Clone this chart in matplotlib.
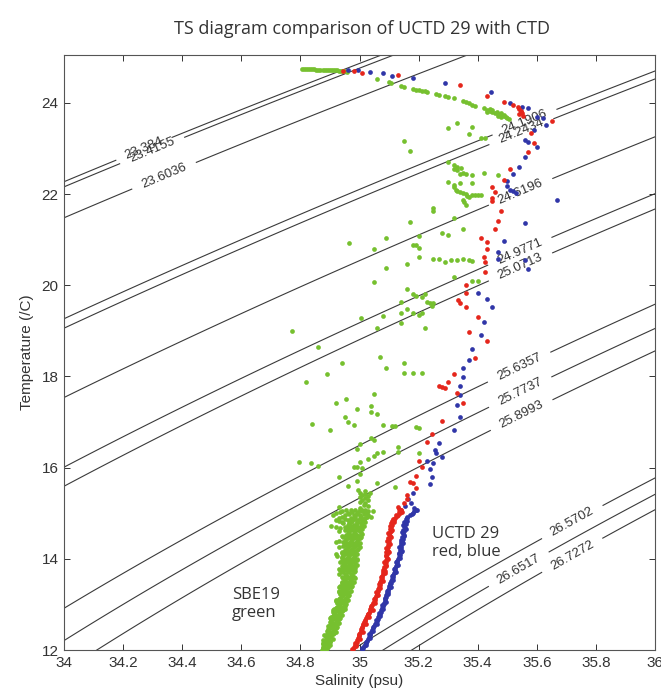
import numpy as np
import matplotlib
matplotlib.use("Agg")
import matplotlib.pyplot as plt

# ---------------- data (salinity, temperature) ----------------
green_upper = [
    (34.805, 24.74), (34.812, 24.74), (34.819, 24.74), (34.826, 24.74), (34.833, 24.735),
    (34.840, 24.735), (34.847, 24.735), (34.854, 24.73), (34.861, 24.73), (34.868, 24.73),
    (34.875, 24.73), (34.882, 24.73), (34.889, 24.725), (34.896, 24.725), (34.903, 24.72),
    (34.910, 24.72), (34.917, 24.72), (34.924, 24.715), (34.931, 24.71), (34.938, 24.71),
    (34.945, 24.70), (34.952, 24.69), (34.958, 24.67),
    (35.06, 24.53), (35.10, 24.46), (35.105, 24.44), (35.14, 24.37), (35.15, 24.35),
    (35.18, 24.30), (35.19, 24.29), (35.20, 24.28), (35.21, 24.27), (35.22, 24.25),
    (35.23, 24.24), (35.26, 24.19), (35.27, 24.17), (35.29, 24.15), (35.30, 24.13),
    (35.32, 24.10), (35.35, 24.05), (35.36, 24.02), (35.37, 24.00), (35.38, 23.96),
    (35.39, 23.93), (35.42, 23.88), (35.43, 23.85), (35.44, 23.83), (35.45, 23.81),
    (35.46, 23.78), (35.47, 23.76), (35.48, 23.73), (35.49, 23.71), (35.50, 23.67),
    (35.44, 23.87), (35.45, 23.84), (35.465, 23.80), (35.48, 23.77), (35.49, 23.74),
    (35.495, 23.69), (35.505, 23.65), (35.47, 23.71), (35.48, 23.68), (35.43, 23.80),
]

green_middle = [
    (35.30, 23.45), (35.33, 23.56), (35.38, 23.47), (35.37, 23.32), (35.41, 23.24),
    (35.425, 23.22), (35.15, 23.17), (35.17, 22.95),
    (35.30, 22.70), (35.32, 22.64), (35.33, 22.60), (35.32, 22.56), (35.33, 22.52),
    (35.345, 22.58), (35.35, 22.47), (35.36, 22.43), (35.34, 22.45), (35.38, 22.42),
    (35.42, 22.46), (35.47, 22.42),
    (35.30, 22.27), (35.34, 22.25), (35.38, 22.25), (35.32, 22.20), (35.32, 22.15),
    (35.325, 22.10), (35.33, 22.06), (35.34, 22.04), (35.35, 22.03), (35.36, 22.00),
    (35.365, 21.96), (35.37, 21.94), (35.38, 21.97), (35.39, 21.98), (35.40, 21.98),
    (35.41, 21.98), (35.35, 21.87), (35.355, 21.82), (35.36, 21.77),
    (35.25, 21.70), (35.25, 21.62), (35.32, 21.48), (35.17, 21.39), (35.35, 21.24),
    (34.965, 20.93), (35.09, 21.04), (35.20, 21.08), (35.18, 20.89), (35.19, 20.89),
    (35.05, 20.80), (35.20, 20.82), (35.28, 21.15), (35.30, 21.10),
    (35.16, 20.47), (35.20, 20.62), (35.25, 20.57), (35.27, 20.58), (35.31, 20.56),
    (35.33, 20.56), (35.35, 20.57), (35.37, 20.55), (35.38, 20.54), (35.09, 20.38),
    (35.29, 20.52),
    (35.32, 20.18), (35.38, 20.10), (35.40, 20.10), (35.05, 20.07), (35.16, 19.92),
    (35.18, 19.80), (35.19, 19.76), (35.21, 19.74), (35.22, 19.80), (35.23, 19.64),
    (35.24, 19.60), (35.25, 19.62), (35.245, 19.55), (35.14, 19.64), (35.16, 19.48),
    (35.14, 19.40), (35.18, 19.40), (35.20, 19.35), (35.21, 19.40), (35.005, 19.29),
    (35.08, 19.33), (35.14, 19.18), (35.22, 19.07), (35.06, 19.07), (34.77, 19.00),
    (34.86, 18.65), (35.07, 18.43), (34.94, 18.30), (35.09, 18.19), (35.15, 18.30),
    (35.15, 18.08), (35.18, 18.08), (35.21, 18.08), (34.89, 18.06), (34.82, 17.88),
    (35.05, 17.62), (34.955, 17.50), (34.92, 17.42), (35.04, 17.36), (34.99, 17.29),
    (35.06, 17.18), (35.04, 17.22), (34.95, 17.11), (34.96, 17.00), (34.84, 16.96),
    (34.98, 16.94), (35.08, 16.94), (35.11, 16.92), (35.12, 16.91), (34.90, 16.83),
    (35.19, 16.90), (35.20, 16.88),
    (35.04, 16.65), (35.05, 16.61), (35.00, 16.52), (34.99, 16.41), (35.06, 16.33),
    (35.08, 16.34), (35.13, 16.46), (35.13, 16.35), (35.05, 16.26), (35.20, 16.33),
    (35.03, 16.19), (34.795, 16.13), (34.835, 16.10), (34.86, 16.04), (35.00, 16.13),
    (34.98, 16.02), (34.99, 16.02), (35.01, 16.00),
    (34.93, 15.80), (35.00, 15.86), (34.99, 15.71), (35.06, 15.67), (34.96, 15.60),
    (35.12, 15.58), (34.995, 15.51), (35.00, 15.45), (35.01, 15.40), (35.02, 15.42),
    (35.03, 15.38), (35.00, 15.35), (35.02, 15.33), (35.01, 15.30), (35.03, 15.28),
    (35.00, 15.25), (35.02, 15.22), (35.015, 15.18), (35.03, 15.15), (35.00, 15.12),
    (35.02, 15.48), (35.035, 15.45), (34.93, 15.14),
]

green_band = [
    (35.02, 15.08), (35.00, 15.08), (34.97, 15.08), (35.03, 15.04), (35.01, 15.04), (34.94, 15.04),
    (35.02, 15.00), (34.99, 15.00), (34.96, 15.00), (34.92, 15.00), (35.03, 14.95), (35.00, 14.95),
    (34.98, 14.95), (34.95, 14.95), (35.02, 14.90), (35.00, 14.90), (34.97, 14.90), (34.93, 14.90),
    (35.01, 14.85), (34.99, 14.85), (34.96, 14.85), (34.92, 14.85), (35.02, 14.80), (34.99, 14.80),
    (34.97, 14.80), (34.94, 14.80), (35.01, 14.75), (34.98, 14.75), (34.96, 14.75), (35.00, 14.70),
    (34.98, 14.70), (34.95, 14.70), (34.92, 14.70), (35.01, 14.65), (34.99, 14.65), (34.97, 14.65),
    (35.00, 14.60), (34.98, 14.60), (34.96, 14.60), (34.93, 14.60), (35.01, 14.55), (34.98, 14.55),
    (34.96, 14.55), (35.00, 14.50), (34.99, 14.50), (34.97, 14.50), (34.94, 14.50), (35.00, 14.45),
    (34.98, 14.45), (34.96, 14.45), (34.99, 14.40), (34.97, 14.40), (34.95, 14.40), (34.93, 14.40),
    (35.00, 14.35), (34.98, 14.35), (34.96, 14.35), (34.99, 14.30), (34.97, 14.30), (34.95, 14.30),
    (35.00, 14.25), (34.98, 14.25), (34.96, 14.25), (34.93, 14.25), (34.99, 14.20), (34.97, 14.20),
    (34.95, 14.20), (34.98, 14.15), (34.96, 14.15), (34.94, 14.15), (34.99, 14.10), (34.97, 14.10),
    (34.95, 14.10), (34.92, 14.10), (34.98, 14.05), (34.96, 14.05), (34.94, 14.05),
    (34.99, 14.00), (34.97, 14.00), (34.95, 14.00), (34.98, 13.95), (34.96, 13.95), (34.94, 13.95),
    (34.985, 13.90), (34.965, 13.90), (34.945, 13.90), (34.98, 13.85), (34.96, 13.85), (34.94, 13.85),
    (34.985, 13.80), (34.965, 13.80), (34.945, 13.80), (34.975, 13.75), (34.955, 13.75), (34.935, 13.75),
    (34.98, 13.70), (34.96, 13.70), (34.94, 13.70), (34.975, 13.65), (34.955, 13.65),
    (34.98, 13.60), (34.96, 13.60), (34.94, 13.60), (34.97, 13.55), (34.95, 13.55),
    (34.98, 13.50), (34.96, 13.50), (34.94, 13.50), (34.97, 13.45), (34.95, 13.45),
    (34.975, 13.40), (34.955, 13.40), (34.935, 13.40), (34.96, 13.35), (34.94, 13.35),
    (34.97, 13.30), (34.95, 13.30), (34.93, 13.30), (34.96, 13.25), (34.94, 13.25),
    (34.965, 13.20), (34.945, 13.20), (34.955, 13.15), (34.935, 13.15),
    (34.96, 13.10), (34.94, 13.10), (34.92, 13.10), (34.95, 13.05), (34.93, 13.05),
    (34.955, 13.00), (34.935, 13.00), (34.945, 12.95), (34.925, 12.95),
    (34.95, 12.90), (34.93, 12.90), (34.915, 12.90), (34.94, 12.85), (34.92, 12.85),
    (34.935, 12.80), (34.915, 12.80), (34.93, 12.75), (34.91, 12.75),
    (34.935, 12.70), (34.915, 12.70), (34.90, 12.70), (34.925, 12.65), (34.905, 12.65),
    (34.93, 12.60), (34.91, 12.60), (34.92, 12.55), (34.90, 12.55),
    (34.925, 12.50), (34.905, 12.50), (34.915, 12.45), (34.895, 12.45),
    (34.92, 12.40), (34.90, 12.40), (34.91, 12.35), (34.89, 12.35),
    (34.905, 12.30), (34.885, 12.30), (34.91, 12.25), (34.89, 12.25),
    (34.90, 12.20), (34.88, 12.20), (34.895, 12.15), (34.878, 12.15),
    (34.90, 12.10), (34.88, 12.10), (34.89, 12.05), (34.875, 12.05), (34.885, 12.01), (34.873, 12.01),
    (34.91, 14.97), (34.905, 14.72), (34.92, 14.36), (34.925, 14.06), (35.04, 14.92), (35.045, 15.05),
]

green_band_fill = [
    (35.01, 15.06), (34.985, 15.06), (34.955, 15.06), (35.025, 15.02), (34.995, 15.02),
    (34.975, 15.02), (34.935, 15.02), (35.015, 14.975), (34.99, 14.975), (34.965, 14.975),
    (35.025, 14.925), (35.005, 14.925), (34.985, 14.925), (34.94, 14.925), (35.01, 14.875),
    (34.98, 14.875), (34.95, 14.875), (35.015, 14.825), (34.995, 14.825), (34.975, 14.825),
    (34.93, 14.825), (35.005, 14.775), (34.99, 14.775), (34.965, 14.775), (34.945, 14.775),
    (35.015, 14.725), (34.99, 14.725), (34.97, 14.725), (35.005, 14.675), (34.985, 14.675),
    (34.96, 14.675), (34.935, 14.675), (34.995, 14.625), (34.97, 14.625), (34.95, 14.625),
    (35.005, 14.575), (34.985, 14.575), (34.965, 14.575), (34.99, 14.525), (34.975, 14.525),
    (34.955, 14.525), (35.005, 14.475), (34.985, 14.475), (34.965, 14.475), (34.945, 14.475),
    (34.995, 14.425), (34.975, 14.425), (34.955, 14.425), (34.99, 14.375), (34.97, 14.375),
    (34.945, 14.375), (34.995, 14.325), (34.975, 14.325), (34.955, 14.325), (34.985, 14.275),
    (34.965, 14.275), (34.945, 14.275), (34.995, 14.225), (34.975, 14.225), (34.955, 14.225),
    (34.985, 14.175), (34.965, 14.175), (34.95, 14.175), (34.98, 14.125), (34.96, 14.125),
    (34.94, 14.125), (34.985, 14.075), (34.965, 14.075), (34.945, 14.075), (34.98, 14.025),
    (34.96, 14.025), (34.94, 14.025), (34.99, 13.975), (34.97, 13.975), (34.95, 13.975),
    (34.975, 13.925), (34.955, 13.925), (34.935, 13.925), (34.99, 13.875), (34.97, 13.875),
    (34.95, 13.875), (34.975, 13.825), (34.955, 13.825), (34.97, 13.775), (34.95, 13.775),
    (34.93, 13.775), (34.985, 13.725), (34.965, 13.725), (34.945, 13.725), (34.97, 13.675),
    (34.95, 13.675), (34.93, 13.675), (34.975, 13.625), (34.955, 13.625), (34.985, 13.575),
    (34.965, 13.575), (34.945, 13.575), (34.97, 13.525), (34.95, 13.525), (34.975, 13.475),
    (34.955, 13.475), (34.94, 13.475), (34.965, 13.425), (34.945, 13.425), (34.97, 13.375),
    (34.95, 13.375), (34.93, 13.375), (34.955, 13.325), (34.94, 13.325), (34.965, 13.275),
    (34.945, 13.275), (34.93, 13.275), (34.955, 13.225), (34.935, 13.225), (34.96, 13.175),
    (34.94, 13.175), (34.95, 13.125), (34.93, 13.125), (34.955, 13.075), (34.935, 13.075),
    (34.92, 13.075), (34.945, 13.025), (34.925, 13.025), (34.95, 12.975), (34.93, 12.975),
    (34.94, 12.925), (34.92, 12.925), (34.945, 12.875), (34.925, 12.875), (34.91, 12.875),
    (34.93, 12.825), (34.91, 12.825), (34.94, 12.775), (34.92, 12.775), (34.925, 12.725),
    (34.905, 12.725), (34.93, 12.675), (34.91, 12.675), (34.92, 12.625), (34.90, 12.625),
    (34.925, 12.575), (34.905, 12.575), (34.915, 12.525), (34.895, 12.525), (34.92, 12.475),
    (34.90, 12.475), (34.91, 12.425), (34.89, 12.425), (34.915, 12.375), (34.895, 12.375),
    (34.90, 12.325), (34.88, 12.325), (34.90, 12.275), (34.885, 12.275), (34.895, 12.225),
    (34.878, 12.225), (34.90, 12.175), (34.882, 12.175), (34.89, 12.125), (34.875, 12.125),
    (34.895, 12.075), (34.878, 12.075), (34.88, 12.03),
]

red_upper = [
    (34.944, 24.70), (34.98, 24.70), (35.01, 24.66), (35.13, 24.61), (35.34, 24.39),
    (35.43, 24.15), (35.49, 24.02), (35.52, 23.96), (35.535, 23.90), (35.54, 23.86),
    (35.545, 23.82), (35.55, 23.78), (35.54, 23.75), (35.552, 23.72), (35.548, 23.80),
    (35.65, 23.60), (35.58, 23.34), (35.59, 23.12), (35.57, 22.93), (35.51, 22.55),
    (35.49, 22.31), (35.45, 22.16), (35.46, 22.05), (35.45, 21.92), (35.45, 21.85),
    (35.48, 21.63), (35.47, 21.41), (35.46, 21.24), (35.41, 21.04), (35.43, 20.95),
    (35.43, 20.80), (35.42, 20.62), (35.425, 20.51), (35.425, 20.29), (35.36, 20.00),
    (35.36, 19.83), (35.335, 19.68), (35.34, 19.62), (35.36, 19.53), (35.40, 19.31),
    (35.37, 18.98), (35.43, 18.78), (35.39, 18.41), (35.32, 18.06), (35.30, 17.88),
    (35.27, 17.80), (35.28, 17.77), (35.29, 17.74), (35.33, 17.64), (35.35, 17.42),
    (35.28, 17.03), (35.245, 16.74), (35.23, 16.57), (35.20, 16.15), (35.21, 16.02),
    (35.19, 15.82), (35.17, 15.69), (35.18, 15.67), (35.19, 15.56), (35.16, 15.40),
    (35.16, 15.32), (35.15, 15.23), (35.13, 15.14),
]

red_band = [
    (35.135, 15.10), (35.142, 15.06), (35.145, 15.03), (35.138, 15.00), (35.130, 14.97),
    (35.126, 14.93), (35.120, 14.90), (35.116, 14.86), (35.111, 14.82), (35.106, 14.78),
    (35.110, 14.74), (35.108, 14.70), (35.102, 14.66), (35.107, 14.62), (35.104, 14.58),
    (35.099, 14.54), (35.103, 14.50), (35.098, 14.46), (35.101, 14.42), (35.097, 14.38),
    (35.100, 14.34), (35.095, 14.30), (35.098, 14.26), (35.094, 14.22), (35.096, 14.18),
    (35.091, 14.14), (35.094, 14.10), (35.090, 14.06), (35.092, 14.02), (35.088, 13.98),
    (35.090, 13.94), (35.086, 13.90), (35.088, 13.86), (35.084, 13.82), (35.082, 13.78),
    (35.085, 13.74), (35.081, 13.70), (35.079, 13.66), (35.077, 13.62), (35.075, 13.58),
    (35.073, 13.54), (35.071, 13.50), (35.069, 13.46), (35.068, 13.42), (35.066, 13.38),
    (35.064, 13.34), (35.062, 13.30), (35.060, 13.26), (35.058, 13.22), (35.056, 13.18),
    (35.054, 13.14), (35.052, 13.10), (35.049, 13.06), (35.046, 13.02), (35.043, 12.98),
    (35.040, 12.94), (35.037, 12.90), (35.034, 12.86), (35.031, 12.82), (35.028, 12.78),
    (35.025, 12.74), (35.022, 12.70), (35.019, 12.66), (35.016, 12.62), (35.013, 12.58),
    (35.011, 12.54), (35.009, 12.50), (35.006, 12.46), (35.004, 12.42), (35.002, 12.38),
    (34.999, 12.34), (34.997, 12.30), (34.994, 12.26), (34.992, 12.22), (34.990, 12.18),
    (34.987, 12.14), (34.984, 12.10), (34.982, 12.06), (34.979, 12.02),
]

red_band_fill = [
    (35.140, 15.08), (35.135, 15.02), (35.124, 14.95), (35.112, 14.88), (35.116, 14.80),
    (35.104, 14.72), (35.110, 14.64), (35.096, 14.56), (35.106, 14.48), (35.094, 14.40),
    (35.102, 14.32), (35.090, 14.24), (35.099, 14.16), (35.088, 14.08), (35.095, 14.00),
    (35.084, 13.92), (35.091, 13.84), (35.079, 13.76), (35.086, 13.68), (35.073, 13.60),
    (35.078, 13.52), (35.066, 13.44), (35.071, 13.36), (35.057, 13.28), (35.063, 13.20),
    (35.050, 13.12), (35.054, 13.04), (35.040, 12.96), (35.044, 12.88), (35.030, 12.80),
    (35.033, 12.72), (35.020, 12.64), (35.022, 12.56), (35.008, 12.48), (35.011, 12.40),
    (34.998, 12.32), (35.000, 12.24), (34.986, 12.16), (34.989, 12.08), (34.976, 12.02),
]

blue_upper = [
    (34.96, 24.72), (34.995, 24.72), (35.035, 24.68), (35.08, 24.66), (35.11, 24.59),
    (35.18, 24.55), (35.29, 24.44), (35.445, 24.24), (35.51, 24.00), (35.55, 23.90),
    (35.57, 23.88), (35.60, 23.68), (35.62, 23.66), (35.63, 23.52), (35.59, 23.41),
    (35.56, 23.19), (35.57, 23.15), (35.60, 23.04), (35.56, 22.82), (35.54, 22.60),
    (35.52, 22.45), (35.50, 22.28), (35.50, 22.18), (35.51, 22.10), (35.52, 22.06),
    (35.53, 22.03), (35.67, 21.87), (35.56, 21.37), (35.49, 20.97), (35.47, 20.73),
    (35.47, 20.58), (35.56, 20.56), (35.57, 20.35), (35.40, 19.83), (35.43, 19.70),
    (35.45, 19.53), (35.42, 19.20), (35.41, 18.91), (35.38, 18.60), (35.37, 18.36),
    (35.35, 18.19), (35.35, 17.99), (35.34, 17.78), (35.34, 17.60), (35.33, 17.38),
    (35.34, 17.11), (35.32, 16.83), (35.27, 16.54), (35.255, 16.39), (35.26, 16.32),
    (35.28, 16.24), (35.23, 16.15), (35.25, 16.10), (35.24, 15.97), (35.245, 15.80),
    (35.24, 15.64), (35.18, 15.45), (35.165, 15.32), (35.175, 15.23), (35.155, 15.16),
    (35.185, 15.12),
]

blue_band = [
    (35.190, 15.08), (35.186, 15.04), (35.180, 15.00), (35.170, 14.96), (35.162, 14.92),
    (35.156, 14.88), (35.159, 14.84), (35.152, 14.80), (35.156, 14.76), (35.150, 14.72),
    (35.153, 14.68), (35.148, 14.64), (35.151, 14.60), (35.146, 14.56), (35.149, 14.52),
    (35.145, 14.48), (35.147, 14.44), (35.143, 14.40), (35.140, 14.36), (35.142, 14.32),
    (35.139, 14.28), (35.141, 14.24), (35.137, 14.20), (35.139, 14.16), (35.135, 14.12),
    (35.137, 14.08), (35.133, 14.04), (35.130, 14.00), (35.128, 13.96), (35.126, 13.92),
    (35.127, 13.88), (35.124, 13.84), (35.121, 13.80), (35.119, 13.76), (35.120, 13.72),
    (35.117, 13.68), (35.115, 13.64), (35.112, 13.60), (35.110, 13.56), (35.108, 13.52),
    (35.106, 13.48), (35.104, 13.44), (35.101, 13.40), (35.099, 13.36), (35.097, 13.32),
    (35.095, 13.28), (35.093, 13.24), (35.091, 13.20), (35.089, 13.16), (35.087, 13.12),
    (35.086, 13.08), (35.084, 13.04), (35.082, 13.00), (35.079, 12.96), (35.077, 12.92),
    (35.074, 12.88), (35.072, 12.84), (35.069, 12.80), (35.066, 12.76), (35.064, 12.72),
    (35.061, 12.68), (35.058, 12.64), (35.055, 12.60), (35.052, 12.56), (35.049, 12.52),
    (35.046, 12.48), (35.043, 12.44), (35.040, 12.40), (35.037, 12.36), (35.034, 12.32),
    (35.031, 12.28), (35.028, 12.24), (35.025, 12.20), (35.022, 12.16), (35.019, 12.12),
    (35.016, 12.08), (35.013, 12.04), (35.010, 12.01),
]

blue_band_fill = [
    (35.194, 15.06), (35.176, 14.98), (35.160, 14.90), (35.162, 14.82), (35.146, 14.74),
    (35.157, 14.66), (35.144, 14.58), (35.152, 14.50), (35.140, 14.42), (35.146, 14.34),
    (35.135, 14.26), (35.143, 14.18), (35.132, 14.10), (35.136, 14.02), (35.124, 13.94),
    (35.130, 13.86), (35.117, 13.78), (35.124, 13.70), (35.111, 13.62), (35.114, 13.54),
    (35.102, 13.46), (35.106, 13.38), (35.092, 13.30), (35.097, 13.22), (35.085, 13.14),
    (35.089, 13.06), (35.077, 12.98), (35.080, 12.90), (35.067, 12.82), (35.069, 12.74),
    (35.056, 12.66), (35.058, 12.58), (35.045, 12.50), (35.047, 12.42), (35.033, 12.34),
    (35.035, 12.26), (35.021, 12.18), (35.023, 12.10), (35.010, 12.04),
]

# isopycnal (sigma-t) levels drawn and where their labels sit (S, T)
contour_levels = [23.384, 23.4155, 23.6036, 24.1906, 24.2434, 24.6196, 24.9771,
                  25.0713, 25.6357, 25.7737, 25.8993, 26.5702, 26.6517, 26.7272]
label_S = [34.27, 34.30, 34.34, 35.555, 35.545, 35.545, 35.545,
           35.545, 35.545, 35.545, 35.545, 35.725, 35.54, 35.725]
label_T = [23.00, 22.93, 22.38, 23.63, 23.41, 22.05, 20.71,
           20.40, 18.14, 17.64, 17.20, 14.75, 13.76, 14.02]

x_ticks = [34, 34.2, 34.4, 34.6, 34.8, 35, 35.2, 35.4, 35.6, 35.8, 36]
x_tick_labels = ["34", "34.2", "34.4", "34.6", "34.8", "35", "35.2", "35.4", "35.6", "35.8", "36"]
y_ticks = [12, 14, 16, 18, 20, 22, 24]
y_tick_labels = ["12", "14", "16", "18", "20", "22", "24"]


def sigma_t(S, T):
    rho_w = (999.842594 + 6.793952e-2 * T - 9.095290e-3 * T**2 + 1.001685e-4 * T**3
             - 1.120083e-6 * T**4 + 6.536332e-9 * T**5)
    A = 8.24493e-1 - 4.0899e-3 * T + 7.6438e-5 * T**2 - 8.2467e-7 * T**3 + 5.3875e-9 * T**4
    B = -5.72466e-3 + 1.0227e-4 * T - 1.6546e-6 * T**2
    C = 4.8314e-4
    return rho_w + A * S + B * S**1.5 + C * S**2 - 1000.0


GREEN = "#76c02f"
RED = "#e5261c"
BLUE = "#3036a8"
LINE = "#3a3a3a"

fig = plt.figure(figsize=(6.61, 6.94), dpi=100)
ax = fig.add_axes([64 / 661, 44 / 694, 591 / 661, 595 / 694])

Sg, Tg = np.meshgrid(np.linspace(33.9, 36.1, 400), np.linspace(11.5, 25.6, 400))
D = sigma_t(Sg, Tg)
for lev, ls_, lt_ in zip(contour_levels, label_S, label_T):
    cs = ax.contour(Sg, Tg, D, levels=[lev], colors=LINE, linewidths=0.8, zorder=1)
    txt = ax.clabel(cs, fmt="%g", manual=[(ls_, lt_)], inline=True, inline_spacing=4,
                    fontsize=9.5, colors="#333333")
    for t in txt:
        t.set_zorder(1.5)
        t.set_family("Liberation Sans")

ms = 3.4
for pts, col in [(green_upper, GREEN), (green_middle, GREEN), (green_band, GREEN),
                 (green_band_fill, GREEN),
                 (blue_upper, BLUE), (blue_band, BLUE), (blue_band_fill, BLUE),
                 (red_upper, RED), (red_band, RED), (red_band_fill, RED)]:
    arr = np.array(pts)
    ax.plot(arr[:, 0], arr[:, 1], "o", color=col, ms=ms, mec="none", zorder=3)

ax.set_xlim(34, 36)
ax.set_ylim(12, 25.05)
ax.set_xticks(x_ticks)
ax.set_xticklabels(x_tick_labels)
ax.set_yticks(y_ticks)
ax.set_yticklabels(y_tick_labels)
ax.tick_params(direction="in", top=True, right=True, length=4, width=0.7,
               labelsize=11, colors="#333333", pad=4)
for lab in ax.get_xticklabels() + ax.get_yticklabels():
    lab.set_family("Liberation Sans")
for sp in ax.spines.values():
    sp.set_color("#555555")
    sp.set_linewidth(0.8)

ax.set_xlabel("Salinity (psu)", fontsize=11, family="Liberation Sans", color="#333333", labelpad=3)
ax.set_ylabel("Temperature (/C)", fontsize=11, family="Liberation Sans", color="#333333", labelpad=5)

ax.text(34.569, 13.39, "SBE19\ngreen", fontsize=12, family="Open Sans", color="#333333",
        va="top", ha="left", linespacing=1.2, zorder=4)
ax.text(35.245, 14.72, "UCTD 29\nred, blue", fontsize=12, family="Open Sans", color="#333333",
        va="top", ha="left", linespacing=1.2, zorder=4)

fig.text(362 / 661, 1 - 29 / 694, "TS diagram comparison of UCTD 29 with CTD", fontsize=13,
         family="Open Sans", color="#333333", ha="center", va="center")

fig.savefig("out.png", dpi=100)
